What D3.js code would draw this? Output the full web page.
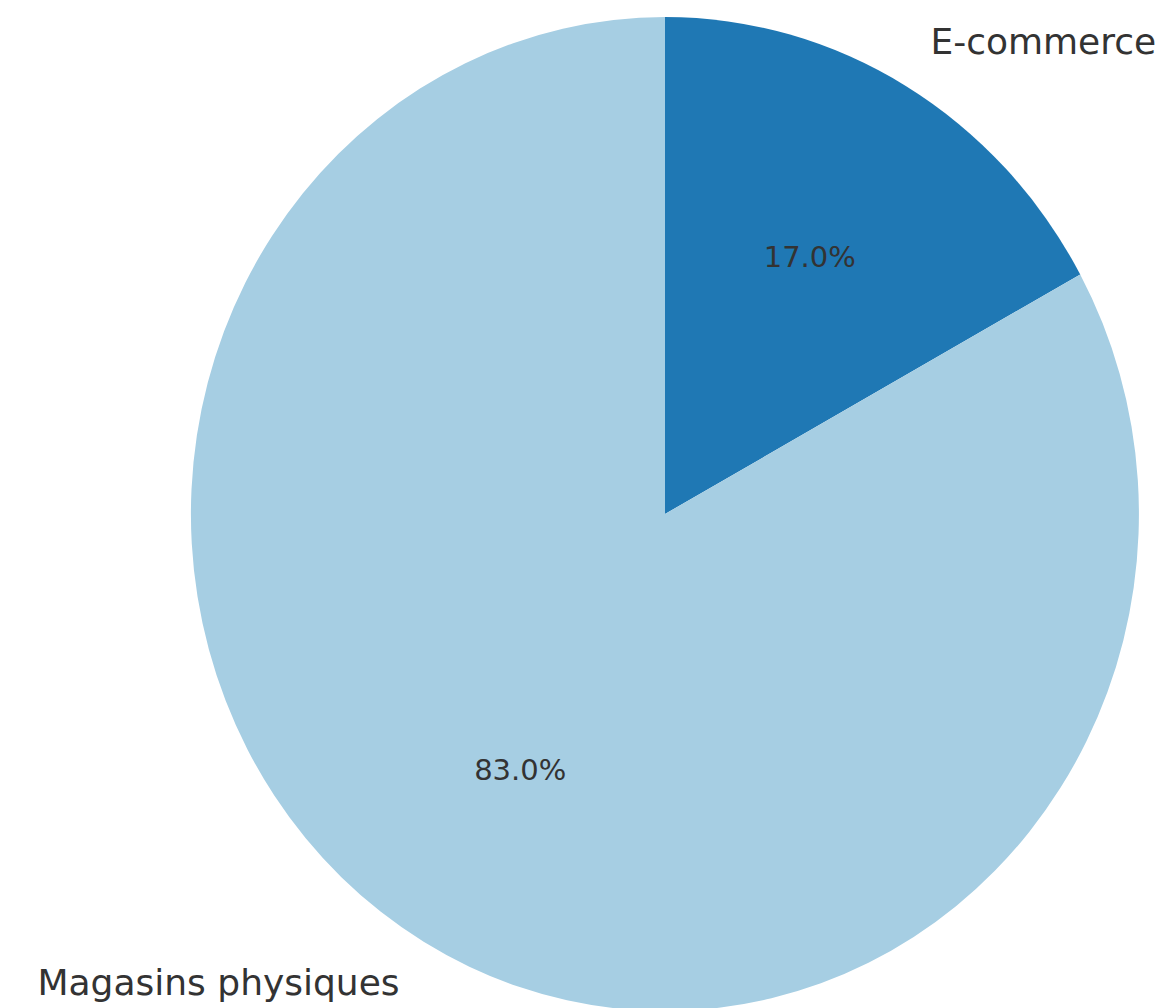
<!DOCTYPE html>
<html>
<head>
<meta charset="utf-8">
<script src="https://cdn.jsdelivr.net/npm/d3@7"></script>
<style>
  html, body { margin: 0; padding: 0; background: #ffffff; }
  svg { display: block; }
  text { font-family: "DejaVu Sans", sans-serif; }
</style>
</head>
<body>
<script>
const categories = ["E-commerce", "Magasins physiques"];
const values = [17.0, 83.0];
const colors = ["#1f78b4", "#a6cee3"];

const W = 1165, H = 1008;
const cx = 665, cy = 514, rx = 474, ry = 497;

const svg = d3.select("body").append("svg")
  .attr("width", W).attr("height", H);
svg.append("rect").attr("width", W).attr("height", H).attr("fill", "#ffffff");

const data = categories.map((c, i) => ({ label: c, value: values[i], color: colors[i] }));
const pie = d3.pie().sort(null).value(d => d.value).startAngle(0).endAngle(2 * Math.PI);
const arcs = pie(data);
const total = d3.sum(values);

// unit-circle scales mapped to the (slightly elliptical) plot area
const x = d3.scaleLinear().domain([-1, 1]).range([cx - rx, cx + rx]);
const y = d3.scaleLinear().domain([-1, 1]).range([cy + ry, cy - ry]);

const arc = d3.arc().innerRadius(0).outerRadius(1);

const g = svg.append("g")
  .attr("transform", `translate(${x(0)},${y(0)}) scale(${x(1) - x(0)},${y(0) - y(1)})`);
g.selectAll("path").data(arcs).join("path")
  .attr("d", arc)
  .attr("fill", d => d.data.color)
  .attr("stroke", "none");

function mid(d) { return (d.startAngle + d.endAngle) / 2; }

// category labels at 1.1 radius
svg.selectAll("text.lab").data(arcs).join("text")
  .attr("class", "lab")
  .attr("x", d => x(1.1 * Math.sin(mid(d))))
  .attr("y", d => y(1.1 * Math.cos(mid(d))))
  .attr("dy", "0.3em")
  .attr("text-anchor", d => Math.sin(mid(d)) >= 0 ? "start" : "end")
  .attr("font-size", 36)
  .attr("fill", "#333333")
  .text(d => d.data.label);

// percentage labels at 0.6 radius
svg.selectAll("text.pct").data(arcs).join("text")
  .attr("class", "pct")
  .attr("x", d => x(0.6 * Math.sin(mid(d))))
  .attr("y", d => y(0.6 * Math.cos(mid(d))))
  .attr("dy", "0.33em")
  .attr("text-anchor", "middle")
  .attr("font-size", 29)
  .attr("fill", "#333333")
  .text(d => (d.data.value / total * 100).toFixed(1) + "%");
</script>
</body>
</html>
